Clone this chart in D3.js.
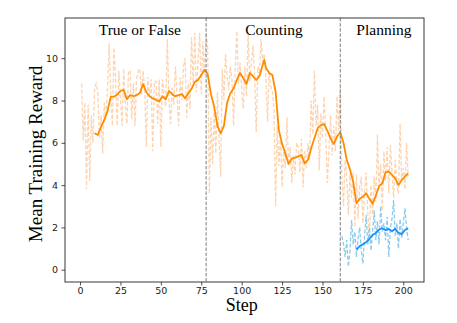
<!DOCTYPE html>
<html>
<head>
<meta charset="utf-8">
<script src="https://cdn.jsdelivr.net/npm/d3@7"></script>
<style>
  body { margin: 0; background: #fff; }
  svg { display: block; }
</style>
</head>
<body>
<div id="chart"></div>
<script>
// raw reward per step (orange task runs)
const orangeRawSteps = d3.range(1, 204)
const orangeRaw = [
  8.8, 6.1, 7.9, 3.8, 7.8, 4.2, 7.3, 6.0, 8.6, 8.8, 8.4, 6.2, 7.3, 5.5, 7.9, 7.1, 8.6, 10.7, 8.4, 6.8,
  10.5, 9.0, 6.8, 9.4, 8.1, 6.8, 9.5, 7.8, 6.9, 9.4, 9.4, 7.1, 8.8, 6.8, 9.0, 9.4, 9.5, 8.3, 9.4, 8.6,
  5.8, 9.1, 8.2, 9.0, 5.6, 8.9, 8.9, 6.9, 9.0, 5.8, 9.0, 8.3, 7.7, 10.9, 8.0, 6.9, 8.6, 7.8, 9.6, 8.2,
  6.8, 9.1, 8.0, 9.6, 10.0, 7.2, 8.8, 7.6, 11.0, 8.8, 11.2, 8.4, 9.8, 11.2, 8.3, 10.8, 9.2, 11.2, 10.5, 3.6,
  7.2, 5.0, 7.6, 5.5, 8.4, 6.2, 4.4, 9.5, 8.0, 10.2, 9.2, 8.5, 9.6, 9.0, 6.8, 9.5, 11.3, 8.8, 9.8, 8.6,
  7.6, 9.6, 8.2, 11.2, 8.9, 9.8, 10.6, 9.2, 6.5, 9.6, 9.2, 10.9, 9.8, 10.2, 9.0, 7.0, 9.4, 8.7, 8.4, 7.6,
  3.0, 6.8, 4.9, 6.3, 3.9, 5.6, 4.8, 7.2, 5.0, 5.8, 4.1, 5.4, 4.5, 6.0, 5.8, 4.6, 6.2, 3.9, 5.6, 4.8,
  6.0, 5.2, 8.0, 6.4, 9.4, 6.8, 7.8, 4.7, 7.4, 6.2, 8.2, 6.6, 4.1, 5.6, 7.3, 5.4, 6.8, 5.6, 8.2, 6.6,
  8.6, 4.4, 3.0, 5.2, 4.4, 2.6, 4.6, 3.4, 4.6, 2.0, 4.5, 2.4, 3.9, 4.4, 2.2, 3.7, 4.6, 2.8, 1.4, 4.0,
  2.6, 4.4, 3.2, 6.4, 3.8, 5.0, 2.8, 5.6, 4.2, 5.8, 3.6, 5.9, 4.6, 3.4, 5.2, 4.0, 3.6, 6.9, 4.2, 4.8,
  3.8, 6.0, 4.4
]

// smoothed orange curve
const orangeSmoothSteps = [
  9, 11, 13, 15, 17, 19, 21, 23, 25, 27, 29, 31, 33, 35, 37, 39, 41, 43, 45, 47,
  49, 51, 53, 55, 57, 59, 61, 63, 65, 67, 69, 71, 73, 75, 77, 79, 81, 83, 85, 87,
  89, 91, 93, 95, 97, 99, 101, 103, 105, 107, 109, 111, 113, 114, 115, 117, 119, 121, 123, 125,
  127, 129, 131, 133, 135, 137, 139, 141, 143, 145, 147, 149, 151, 153, 155, 157, 159, 161, 163, 165,
  167, 169, 171, 173, 175, 177, 179, 181, 183, 185, 187, 189, 191, 193, 195, 197, 199, 201, 203
]
const orangeSmooth = [
  6.45, 6.37, 6.75, 7.08, 7.5, 8.18, 8.18, 8.28, 8.45, 8.5, 8.06, 8.26, 8.2, 8.25, 8.35, 8.78, 8.4, 8.2, 8.1, 8.03,
  7.95, 8.2, 8.05, 8.45, 8.3, 8.2, 8.25, 8.3, 8.1, 8.34, 8.55, 8.88, 8.97, 9.2, 9.45, 9.25, 8.3, 7.7, 6.8, 6.45,
  6.8, 7.9, 8.34, 8.58, 8.97, 9.3, 9.05, 8.78, 9.3, 9.15, 8.97, 9.15, 9.68, 9.92, 9.55, 9.3, 9.2, 8.4, 6.6, 5.95,
  5.5, 5.0, 5.25, 5.3, 5.36, 5.43, 5.03, 5.19, 5.74, 6.22, 6.69, 6.84, 6.89, 6.58, 6.2, 5.95, 6.3, 6.5, 6.0, 5.2,
  4.75, 4.15, 3.14, 3.35, 3.45, 3.62, 3.35, 3.12, 3.5, 3.95, 4.08, 4.6, 4.65, 4.48, 4.32, 4.0, 4.24, 4.4, 4.56
]

// raw reward per step (blue, planning only)
const blueRawSteps = d3.range(162, 204)
const blueRaw = [
  1.6, 1.2, 0.6, 1.4, 0.15, 0.9, 2.35, 1.2, 1.8, 0.6, 1.5, 2.0, 0.9, 0.3, 1.6, 2.6, 1.2, 2.0, 0.9, 1.8,
  2.8, 1.4, 2.3, 1.2, 3.0, 1.8, 2.2, 1.4, 2.5, 0.6, 2.0, 2.4, 3.3, 1.6, 2.2, 1.0, 2.4, 1.5, 2.2, 2.9,
  2.0, 1.4
]

const blueSmoothSteps = [171, 173, 175, 177, 179, 181, 183, 185, 187, 189, 191, 193, 195, 197, 199, 201, 203]
const blueSmooth = [0.95, 1.12, 1.2, 1.3, 1.45, 1.64, 1.74, 1.9, 1.96, 1.87, 1.93, 1.82, 1.94, 1.75, 1.68, 1.88, 1.96]

// task boundaries and names
const boundaries = [78, 161]
const sections = [
  { name: 'True or False', at: 37 },
  { name: 'Counting', at: 120 },
  { name: 'Planning', at: 188 }
]
const xTicks = [0, 25, 50, 75, 100, 125, 150, 175, 200]
const yTicks = [0, 2, 4, 6, 8, 10]

const width = 457
const height = 323
const margin = { top: 18, right: 33, bottom: 41, left: 65 }

const svg = d3.select('#chart')
  .append('svg')
  .attr('width', width)
  .attr('height', height)

const x = d3.scaleLinear()
  .domain([-9.3, 212.8])
  .range([margin.left, width - margin.right])

const y = d3.scaleLinear()
  .domain([-0.58, 11.9])
  .range([height - margin.bottom, margin.top])

const zip = (steps, vals) => steps.map((s, i) => [s, vals[i]])

const line = d3.line()
  .x(d => x(d[0]))
  .y(d => y(d[1]))

// raw, dashed and light
svg.append('path')
  .datum(zip(orangeRawSteps, orangeRaw))
  .attr('d', line)
  .attr('fill', 'none')
  .attr('stroke', '#fdd4b1')
  .attr('stroke-width', 1.3)
  .attr('stroke-dasharray', '4,2')

svg.append('path')
  .datum(zip(blueRawSteps, blueRaw))
  .attr('d', line)
  .attr('fill', 'none')
  .attr('stroke', '#8ccbec')
  .attr('stroke-width', 1.3)
  .attr('stroke-dasharray', '4,2')

// smoothed
svg.append('path')
  .datum(zip(orangeSmoothSteps, orangeSmooth))
  .attr('d', line)
  .attr('fill', 'none')
  .attr('stroke', '#ff8c00')
  .attr('stroke-width', 1.8)
  .attr('stroke-linejoin', 'round')

svg.append('path')
  .datum(zip(blueSmoothSteps, blueSmooth))
  .attr('d', line)
  .attr('fill', 'none')
  .attr('stroke', '#1e8fff')
  .attr('stroke-width', 1.8)
  .attr('stroke-linejoin', 'round')

// task boundaries
svg.selectAll('line.boundary')
  .data(boundaries)
  .enter()
  .append('line')
  .attr('class', 'boundary')
  .attr('x1', d => x(d))
  .attr('x2', d => x(d))
  .attr('y1', margin.top)
  .attr('y2', height - margin.bottom)
  .attr('stroke', '#7f7f7f')
  .attr('stroke-width', 1)
  .attr('stroke-dasharray', '3.5,1.6')

svg.selectAll('text.section')
  .data(sections)
  .enter()
  .append('text')
  .attr('class', 'section')
  .attr('x', d => x(d.at))
  .attr('y', 35)
  .attr('text-anchor', 'middle')
  .style('font-family', '"Liberation Serif", "Times New Roman", serif')
  .style('font-size', '15.5px')
  .text(d => d.name)

// axes
const xAxis = svg.append('g')
  .attr('transform', `translate(0,${height - margin.bottom})`)
  .call(d3.axisBottom(x).tickValues(xTicks).tickSize(3.5).tickPadding(2))

const yAxis = svg.append('g')
  .attr('transform', `translate(${margin.left},0)`)
  .call(d3.axisLeft(y).tickValues(yTicks).tickSize(3.5).tickPadding(3.5))

;[xAxis, yAxis].forEach(g => {
  g.select('.domain').remove()
  g.selectAll('text')
    .style('font-family', '"DejaVu Sans", sans-serif')
    .style('font-size', '9.5px')
    .attr('fill', '#222')
  g.selectAll('line').attr('stroke', '#222').attr('stroke-width', 0.8)
})

// frame
svg.append('rect')
  .attr('x', margin.left)
  .attr('y', margin.top)
  .attr('width', width - margin.left - margin.right)
  .attr('height', height - margin.top - margin.bottom)
  .attr('fill', 'none')
  .attr('stroke', '#222')
  .attr('stroke-width', 0.9)

// labels
svg.append('text')
  .attr('x', x(100))
  .attr('y', 311)
  .attr('text-anchor', 'middle')
  .style('font-family', '"Liberation Serif", "Times New Roman", serif')
  .style('font-size', '18px')
  .text('Step')

svg.append('text')
  .attr('transform', `translate(42,${(margin.top + height - margin.bottom) / 2 + 4}) rotate(-90)`)
  .attr('text-anchor', 'middle')
  .style('font-family', '"Liberation Serif", "Times New Roman", serif')
  .style('font-size', '19px')
  .text('Mean Training Reward')
</script>
</body>
</html>
